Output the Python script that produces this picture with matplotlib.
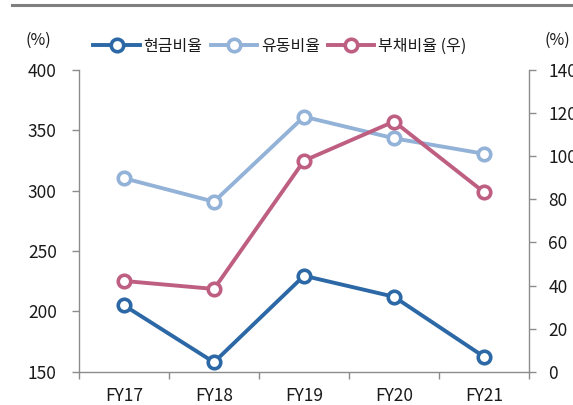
import matplotlib
matplotlib.use("Agg")
import matplotlib.pyplot as plt
from matplotlib.lines import Line2D
import numpy as np

plt.rcParams['font.family'] = ['Noto Sans CJK KR', 'DejaVu Sans']

categories = ["FY17", "FY18", "FY19", "FY20", "FY21"]
cash_ratio = [205.0, 157.8, 229.5, 212.1, 162.4]
current_ratio = [310.3, 290.9, 361.3, 343.4, 330.6]
debt_ratio = [42.1, 38.4, 97.9, 116.1, 83.3]
series_names = ["현금비율", "유동비율", "부채비율 (우)"]
left_ticks = [150, 200, 250, 300, 350, 400]
right_ticks = [0, 20, 40, 60, 80, 100, 120, 140]

c_cash = "#2B68A5"
c_cur = "#93B2D8"
c_debt = "#BE5F82"
spine_c = "#8C8C8C"
txt_c = "#1A1A1A"

fig = plt.figure(figsize=(5.73, 4.05), dpi=100)
ax = fig.add_axes([79/573, 1-371.7/405, 450/573, (371.7-70)/405])
ax2 = ax.twinx()

x = np.arange(len(categories))
mk = dict(marker='o', markersize=9, markerfacecolor='white', markeredgewidth=2.6, linewidth=2.8)
ax.plot(x, cash_ratio, color=c_cash, markeredgecolor=c_cash, zorder=3, **mk)
ax.plot(x, current_ratio, color=c_cur, markeredgecolor=c_cur, zorder=3, **mk)
ax2.plot(x, debt_ratio, color=c_debt, markeredgecolor=c_debt, zorder=3, **mk)

ax.set_xlim(-0.5, len(categories) - 0.5)
ax.set_ylim(left_ticks[0], left_ticks[-1])
ax2.set_ylim(right_ticks[0], right_ticks[-1])
ax.set_yticks(left_ticks)
ax2.set_yticks(right_ticks)
ax.set_xticks(x)
ax.set_xticklabels(categories)
ax.set_xticks(np.arange(-0.5, len(categories), 1.0), minor=True)

for a in (ax, ax2):
    a.spines['top'].set_visible(False)
    for s in ('left', 'right', 'bottom'):
        a.spines[s].set_color(spine_c)
        a.spines[s].set_linewidth(1.0)
ax.spines['right'].set_visible(False)
ax2.spines['left'].set_visible(False)
ax2.spines['bottom'].set_visible(False)

ax.tick_params(axis='x', which='major', length=0, pad=11, labelsize=12.5, labelcolor=txt_c)
ax.tick_params(axis='x', which='minor', length=5, width=1, color=spine_c, direction='out')
ax.tick_params(axis='y', length=5, width=1, color=spine_c, direction='out', pad=11, labelsize=12.5, labelcolor=txt_c)
ax2.tick_params(axis='y', length=5, width=1, color=spine_c, direction='out', pad=9, labelsize=12.5, labelcolor=txt_c)

fig.text(38/573, 1-40/405, "(%)", ha='center', va='center', fontsize=11.5, color=txt_c)
fig.text(557/573, 1-40/405, "(%)", ha='center', va='center', fontsize=11.5, color=txt_c)

handles = [
    Line2D([], [], color=c_cash, markeredgecolor=c_cash, **mk),
    Line2D([], [], color=c_cur, markeredgecolor=c_cur, **mk),
    Line2D([], [], color=c_debt, markeredgecolor=c_debt, **mk),
]
fig.legend(handles, series_names, loc='center', bbox_to_anchor=(280/573, 1-46/405), ncol=3,
           frameon=False, fontsize=11.5, handlelength=2.9, handletextpad=0.25, columnspacing=0.5,
           labelcolor=txt_c)

fig.add_artist(Line2D([12/573, 1], [1-5/405, 1-5/405], color="#7F7F7F", linewidth=2.2))

fig.savefig("out.png", dpi=100)
